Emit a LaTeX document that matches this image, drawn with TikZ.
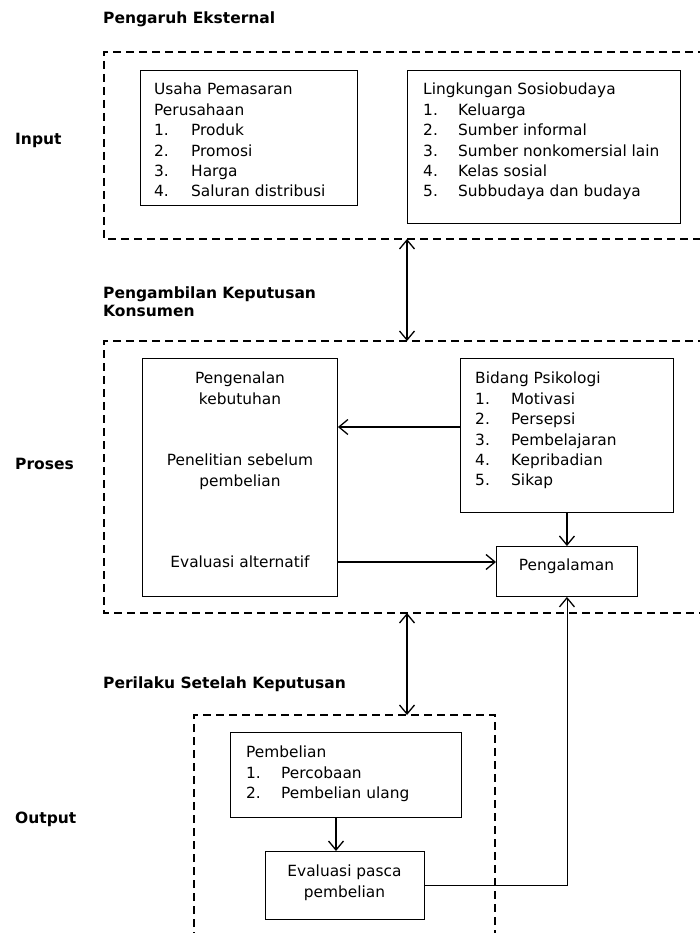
\documentclass[tikz,border=0pt]{standalone}
\usepackage{fontspec}
\setmainfont{DejaVu Sans}
\usetikzlibrary{arrows.meta}
\begin{document}
\begin{tikzpicture}[x=1pt,y=-1pt,
  box/.style={draw, line width=0.9pt, inner sep=0pt, anchor=north west},
  dbox/.style={draw, line width=1.8pt, dash pattern=on 8pt off 5pt},
  tip/.tip={Straight Barb[length=9pt,width=15pt,line width=1.3pt]},
  conn/.style={line width=1.3pt, -tip},
  dconn/.style={line width=1.3pt, tip-tip},
  txt/.style={inner sep=0pt, anchor=north west, align=left, font=\fontsize{15.4}{20.4}\selectfont},
  ctxt/.style={inner sep=0pt, anchor=north, align=center, font=\fontsize{15.4}{20.4}\selectfont},
  ttl/.style={inner sep=0pt, anchor=west, align=left, font=\fontsize{15.5}{18}\selectfont\bfseries},
]
\useasboundingbox (0,0) rectangle (700,933);
\clip (0,0) rectangle (700,933);

% titles and side labels
\node[ttl] (t1) at (103,19) {Pengaruh Eksternal};
\node[ttl] (t2) at (103,302) {Pengambilan Keputusan\\Konsumen};
\node[ttl] (t3) at (103,684) {Perilaku Setelah Keputusan};
\node[ttl] (linput) at (15,140) {Input};
\node[ttl] (lproses) at (15,464) {Proses};
\node[ttl] (loutput) at (15,819) {Output};

% dashed frames
\draw[dbox] (706,52) -- (104,52) -- (104,239) -- (706,239);
\draw[dbox] (706,341) -- (104,341) -- (104,613) -- (706,613);
\draw[dbox] (194,940) -- (194,715) -- (495,715) -- (495,940);

% boxes
\node[box, minimum width=217, minimum height=135] (usaha) at (140,70) {};
\node[box, minimum width=273, minimum height=153] (ling) at (407,70) {};
\node[box, minimum width=195, minimum height=238] (left) at (142,358) {};
\node[box, minimum width=213, minimum height=154] (bid) at (460,358) {};
\node[box, minimum width=141, minimum height=50] (pga) at (496,546) {};
\node[box, minimum width=231, minimum height=85] (pemb) at (230,732) {};
\node[box, minimum width=159, minimum height=68] (eval) at (265,851) {};

% texts
\node[txt] (usahat) at (154,83) {Usaha Pemasaran\\Perusahaan\\
\makebox[37pt][l]{1.}Produk\\\makebox[37pt][l]{2.}Promosi\\
\makebox[37pt][l]{3.}Harga\\\makebox[37pt][l]{4.}Saluran distribusi};
\node[txt] (lingt) at (423,83) {Lingkungan Sosiobudaya\\
\makebox[35pt][l]{1.}Keluarga\\\makebox[35pt][l]{2.}Sumber informal\\
\makebox[35pt][l]{3.}Sumber nonkomersial lain\\\makebox[35pt][l]{4.}Kelas sosial\\
\makebox[35pt][l]{5.}Subbudaya dan budaya};
\node[ctxt] (pk) at (240,372) {Pengenalan\\kebutuhan};
\node[ctxt] (ps) at (240,454) {Penelitian sebelum\\pembelian};
\node[ctxt] (ea) at (240,556) {Evaluasi alternatif};
\node[txt] (bidt) at (475,372) {Bidang Psikologi\\
\makebox[36pt][l]{1.}Motivasi\\\makebox[36pt][l]{2.}Persepsi\\
\makebox[36pt][l]{3.}Pembelajaran\\\makebox[36pt][l]{4.}Kepribadian\\
\makebox[36pt][l]{5.}Sikap};
\node[ctxt] (pgat) at (566.5,559) {Pengalaman};
\node[txt] (pembt) at (246,746) {Pembelian\\
\makebox[35pt][l]{1.}Percobaan\\\makebox[35pt][l]{2.}Pembelian ulang};
\node[ctxt] (evalt) at (344.5,865) {Evaluasi pasca\\pembelian};

% connectors
\coordinate (a1) at (407,239);
\coordinate (a2) at (407,341);
\coordinate (b1) at (407,613);
\coordinate (b2) at (407,715);
\draw[dconn] (a1) -- (a2);
\draw[dconn] (b1) -- (b2);
\draw[conn] (bid.west |- 0,427) -- (left.east |- 0,427);
\draw[conn] (bid.south -| pga.north) -- (pga.north);
\draw[conn] (left.east |- 0,562) -- (pga.west |- 0,562);
\draw[conn] (pemb.south -| 336,0) -- (eval.north -| 336,0);
\draw[conn, line width=0.9pt] (eval.east |- 0,885) -| (pga.south);
\end{tikzpicture}
\end{document}
